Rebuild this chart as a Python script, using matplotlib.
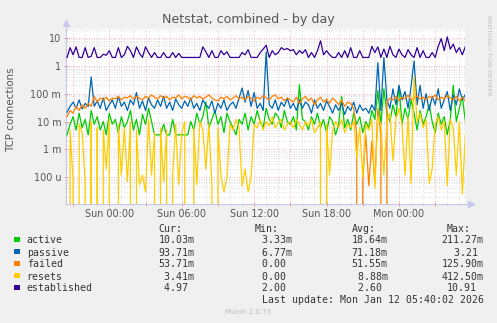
import matplotlib
matplotlib.use('Agg')
import matplotlib.pyplot as plt
import matplotlib.dates as mdates
from matplotlib.ticker import FixedLocator, LogLocator, NullFormatter, FuncFormatter
from matplotlib.patches import Rectangle
import numpy as np
import pandas as pd

plt.rcParams['font.family'] = ['DejaVu Sans']

# ---------------- data (values in milli-connections unless noted) ----------------
times = pd.date_range('2026-01-10 20:30', periods=133, freq='15min')

active_milli = [
    3.33, 8, 15, 5, 20, 6, 12, 3.33, 25, 8,
    15, 5, 10, 3.33, 20, 8, 12, 4, 15, 6,
    10, 25, 5, 12, 3.33, 18, 8, 30, 10, 3.33,
    3.33, 3.33, 8, 3.33, 3.33, 12, 3.33, 3.33, 3.33, 3.33,
    3.33, 10, 5, 20, 8, 15, 50, 6, 12, 25,
    8, 15, 4, 20, 10, 6, 3.33, 12, 8, 20,
    5, 15, 8, 25, 10, 6, 30, 12, 8, 20,
    15, 6, 25, 10, 8, 15, 5, 211.27, 12, 10,
    5, 15, 8, 20, 6, 12, 4, 15, 10, 3.33,
    8, 80, 6, 12, 5, 20, 8, 15, 4, 10,
    6, 25, 12, 130, 8, 150, 20, 10, 40, 15,
    190, 8, 30, 12, 60, 20, 5, 25, 8, 15,
    40, 10, 4, 20, 8, 15, 3.33, 12, 200, 10,
    30, 80, 10.03]

passive_milli = [
    22, 35, 50, 30, 60, 28, 45, 35, 400, 35,
    55, 30, 70, 25, 40, 60, 30, 80, 35, 50,
    25, 60, 40, 110, 30, 55, 25, 70, 40, 30,
    60, 35, 80, 30, 50, 25, 65, 40, 30, 55,
    35, 70, 30, 45, 25, 60, 40, 30, 55, 20,
    45, 30, 60, 25, 40, 50, 30, 70, 160, 50,
    130, 35, 110, 30, 45, 25, 3210, 40, 30, 60,
    25, 50, 35, 70, 30, 45, 25, 60, 30, 50,
    40, 20, 60, 30, 45, 25, 55, 35, 20, 40,
    25, 45, 18, 35, 25, 50, 20, 40, 25, 30,
    20, 40, 25, 1300, 25, 2000, 60, 30, 150, 40,
    200, 60, 120, 30, 180, 1500, 40, 200, 30, 100,
    25, 80, 40, 150, 30, 60, 120, 25, 90, 40,
    150, 60, 93.71]

failed_milli = [
    15, 25, 20, 35, 25, 40, 30, 45, 35, 80,
    50, 70, 60, 75, 55, 70, 65, 80, 60, 75,
    70, 85, 65, 80, 70, 60, 80, 70, 90, 75,
    65, 85, 70, 80, 60, 75, 70, 90, 65, 80,
    75, 60, 85, 70, 80, 65, 75, 90, 70, 60,
    55, 75, 65, 80, 60, 70, 85, 65, 75, 60,
    80, 70, 55, 75, 65, 85, 70, 60, 80, 90,
    65, 75, 55, 70, 60, 50, 75, 45, 65, 80,
    55, 70, 40, 60, 75, 50, 65, 45, 70, 55,
    40, 60, 35, 50, 45, 30, 3.3, 0, 0.08, 3.3,
    0.05, 2, 0.06, 30, 3.3, 0, 50, 70, 60, 80,
    55, 75, 65, 90, 60, 70, 85, 65, 75, 60,
    80, 70, 90, 60, 75, 65, 85, 70, 60, 80,
    55, 75, 53.71]

resets_milli = [
    0, 5, 0.08, 0, 8, 4, 0.07, 0, 10, 0,
    6, 0, 5, 0.2, 12, 0, 0, 8, 0.12, 6,
    0.07, 10, 0, 5, 0.055, 0.12, 0.03, 12, 0.12, 4,
    0, 6, 0.07, 5, 0, 0.12, 8, 0.055, 4, 10,
    0, 0, 6, 0.055, 10, 5, 0.2, 8, 0.055, 0,
    6, 0.12, 0.03, 0.1, 8, 5, 12, 6, 0.05, 0.2,
    0.03, 0.1, 8, 6, 12, 5, 10, 7, 15, 6,
    9, 12, 5, 8, 10, 6, 12, 8, 5, 10,
    7, 12, 4, 6, 10, 0, 8, 0.12, 5, 10,
    6, 12, 4, 8, 6, 10, 0.5, 6, 0.1, 8,
    5, 12, 0.04, 15, 8, 0.12, 10, 20, 0.4, 12,
    30, 8, 0.12, 15, 0.06, 412.5, 10, 20, 6, 12,
    0.06, 0.2, 8, 15, 5, 10, 0.05, 12, 6, 0.12,
    10, 0.025, 3.41]

established = [
    2, 4.5, 2.5, 4.8, 2, 2, 4.5, 2, 2.2, 4.5,
    2, 2, 2.6, 2.4, 3.5, 2, 2, 4.5, 2, 2.5,
    5, 3.5, 2, 4.8, 2.8, 2, 4.8, 3, 2, 3,
    2, 2, 3, 2, 2, 3, 2, 2.8, 2, 2,
    2, 2, 2, 2, 2, 4.8, 3.2, 2, 3.5, 2,
    2, 3.5, 2.5, 3.2, 2, 2, 2, 2, 3, 2.5,
    3.8, 2, 2, 2, 3, 4, 5.5, 2, 3.5, 2.5,
    3, 4.5, 3.8, 4.2, 3.5, 3.8, 2.5, 3.5, 2.8, 3.8,
    2, 3, 2, 3.5, 7.9, 2.5, 3.5, 2.5, 2, 2,
    3, 2, 3.5, 2, 4.5, 2, 2, 3.5, 2, 2,
    2, 5, 3, 4.8, 2, 4, 2, 5, 2.5, 2,
    4, 2.5, 2, 3.8, 2.5, 2, 4.5, 2, 3.5, 2,
    2, 3, 2, 5, 9.5, 3.5, 10.9, 4, 6, 3,
    4.5, 2.5, 4.97]

series_names = ['active', 'passive', 'failed', 'resets', 'established']
series_colors = ['#00CC00', '#0066B3', '#FF8000', '#FFCC00', '#330099']
cur_labels = ['10.03m', '93.71m', '53.71m', ' 3.41m', ' 4.97']
min_labels = [' 3.33m', ' 6.77m', ' 0.00', ' 0.00', ' 2.00']
avg_labels = ['18.64m', '71.18m', '51.55m', ' 8.88m', ' 2.60']
max_labels = ['211.27m', ' 3.21', '125.90m', '412.50m', '10.91']

ytick_vals = [1e-4, 1e-3, 1e-2, 1e-1, 1, 10]
ytick_labels = ['100 u', '1 m', '10 m', '100 m', '1', '10']

# ---------------- figure ----------------
W, H = 497, 323
fig = plt.figure(figsize=(W / 100, H / 100), dpi=100, facecolor='#F0F0F0')

def fx(x):
    return x / W

def fy(y):
    return 1 - y / H

ax = fig.add_axes([fx(66), fy(204), 399 / W, 175 / H])
ax.set_facecolor('white')

values = [np.array(active_milli) / 1000.0,
          np.array(passive_milli) / 1000.0,
          np.array(failed_milli) / 1000.0,
          np.array(resets_milli) / 1000.0,
          np.array(established, dtype=float)]

ax.set_yscale('log', nonpositive='clip')
for vals, col in zip(values, series_colors):
    ax.plot(times, vals, color=col, lw=0.9, zorder=3)

ax.set_ylim(1.1e-5, 21)
ax.set_xlim(pd.Timestamp('2026-01-10 20:24:47'), pd.Timestamp('2026-01-12 05:28:12'))

ax.yaxis.set_major_locator(FixedLocator(ytick_vals))
ax.set_yticklabels(ytick_labels)
ax.yaxis.set_minor_locator(LogLocator(base=10, subs=np.arange(2, 10)))
ax.yaxis.set_minor_formatter(NullFormatter())

ax.xaxis.set_major_locator(mdates.HourLocator(byhour=range(0, 24, 3)))
ax.xaxis.set_minor_locator(mdates.HourLocator())

def xfmt(v, pos):
    d = mdates.num2date(v)
    return d.strftime('%a %H:%M') if d.hour % 6 == 0 else ''

ax.xaxis.set_major_formatter(FuncFormatter(xfmt))

ax.grid(which='major', color='#F2A0A0', linestyle=(0, (1, 2)), lw=0.6, zorder=1)
ax.grid(which='minor', color='#D4D4D4', linestyle=(0, (1, 2)), lw=0.6, zorder=1)
ax.set_axisbelow(True)

ax.tick_params(which='major', length=3, direction='inout', color='#F08080', width=0.6,
               labelsize=6.9, labelcolor='#555555', pad=2)
ax.tick_params(which='minor', length=2, direction='inout', color='#CCCCCC', width=0.6)

for s in ['top', 'right']:
    ax.spines[s].set_visible(False)
for s in ['left', 'bottom']:
    ax.spines[s].set_color('#C8C8E8')
    ax.spines[s].set_linewidth(0.8)

# axis arrows
ax.plot([0, 0], [1, 1.035], transform=ax.transAxes, color='#C8C8E8', lw=0.8, clip_on=False)
ax.plot([1, 1.015], [0, 0], transform=ax.transAxes, color='#C8C8E8', lw=0.8, clip_on=False)
ax.plot([0], [1.035], marker='^', ms=4, color='#C8C8F0', transform=ax.transAxes, clip_on=False)
ax.plot([1.015], [0], marker='>', ms=4, color='#C8C8F0', transform=ax.transAxes, clip_on=False)

# titles
fig.text(fx(248), fy(19.3), 'Netstat, combined - by day', ha='center', va='center',
         fontsize=9.1, color='#555555')
fig.text(fx(10.7), fy(110), 'TCP connections', rotation=90, ha='center', va='center',
         fontsize=7.4, color='#555555')
fig.text(fx(489), fy(15), 'RRDTOOL / TOBI OETIKER', rotation=270, ha='center', va='top',
         fontsize=4.5, color='#BBBBBB')

# legend
mono = 'DejaVu Sans Mono'
fs = 7.15
tc = '#333333'
rows_y = [239.3, 251.7, 263.3, 275.7, 287.3]
cur_x = [158.3, 158.3, 158.3, 158.3, 158.3]
min_x = [255.7] * 5
avg_x = [351.7] * 5
max_x = [441.7, 447.7, 441.7, 441.7, 446.7]

for hx, ht in zip([158.3, 255, 351.7, 446.7], ['Cur:', 'Min:', 'Avg:', 'Max:']):
    fig.text(fx(hx), fy(228.3), ht, family=mono, fontsize=fs, color=tc, va='center_baseline')

for k in range(5):
    yy = rows_y[k]
    fig.patches.append(Rectangle((fx(14), fy(yy + 2.7)), 5.5 / W, 5.5 / H,
                                 transform=fig.transFigure, facecolor=series_colors[k],
                                 edgecolor='none'))
    fig.text(fx(26.7), fy(yy), series_names[k], family=mono, fontsize=fs, color=tc,
             va='center_baseline')
    fig.text(fx(cur_x[k]), fy(yy), cur_labels[k], family=mono, fontsize=fs, color=tc,
             va='center_baseline')
    fig.text(fx(min_x[k]), fy(yy), min_labels[k], family=mono, fontsize=fs, color=tc,
             va='center_baseline')
    fig.text(fx(avg_x[k]), fy(yy), avg_labels[k], family=mono, fontsize=fs, color=tc,
             va='center_baseline')
    fig.text(fx(max_x[k]), fy(yy), max_labels[k], family=mono, fontsize=fs, color=tc,
             va='center_baseline')

fig.text(fx(261.7), fy(299.3), 'Last update: Mon Jan 12 05:40:02 2026', family=mono,
         fontsize=fs, color=tc, va='center_baseline')
fig.text(fx(248), fy(312.3), 'Munin 2.0.73', ha='center', va='center', fontsize=5,
         color='#BBBBBB')

fig.savefig('out.png', dpi=100, facecolor=fig.get_facecolor())
